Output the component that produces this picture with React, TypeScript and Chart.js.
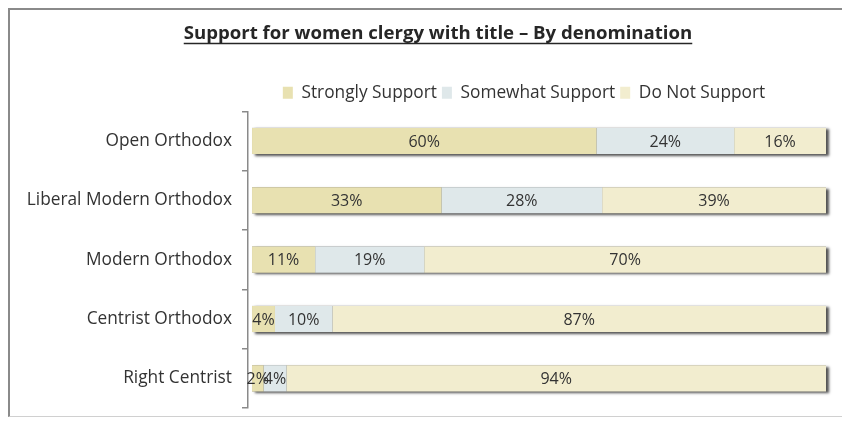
import React, { useEffect, useRef } from "react";
import { Chart, registerables } from "chart.js";

Chart.register(...registerables);

const titleText = "Support for women clergy with title – By denomination";
const categories = [
  "Open Orthodox",
  "Liberal Modern Orthodox",
  "Modern Orthodox",
  "Centrist Orthodox",
  "Right Centrist",
];
const seriesNames = ["Strongly Support", "Somewhat Support", "Do Not Support"];
const stronglySupport = [60, 33, 11, 4, 2];
const somewhatSupport = [24, 28, 19, 10, 4];
const doNotSupport = [16, 39, 70, 87, 94];
const seriesColors = ["#e8e1b1", "#dfe8ea", "#f2edcf"];

const FONT = "'Open Sans', sans-serif";

const titlePlugin = {
  id: "underlinedTitle",
  afterDraw(chart: any) {
    const ctx = chart.ctx;
    ctx.save();
    ctx.font = `bold 18.6px ${FONT}`;
    ctx.fillStyle = "#262626";
    ctx.textAlign = "center";
    ctx.textBaseline = "alphabetic";
    const cx = 428;
    const by = 29;
    ctx.fillText(titleText, cx, by);
    const w = ctx.measureText(titleText).width;
    ctx.strokeStyle = "#262626";
    ctx.lineWidth = 1.3;
    ctx.beginPath();
    ctx.moveTo(cx - w / 2, by + 4.5);
    ctx.lineTo(cx + w / 2, by + 4.5);
    ctx.stroke();
    ctx.restore();
  },
};

const legendShiftPlugin = {
  id: "legendShift",
  afterLayout(chart: any) {
    const lg = chart.legend;
    if (lg) {
      lg.left -= 13;
      lg.right -= 13;
    }
  },
};

const shadowPlugin = {
  id: "barShadow",
  beforeDatasetsDraw(chart: any) {
    const ctx = chart.ctx;
    const n = chart.data.datasets.length;
    const first = chart.getDatasetMeta(0).data;
    const last = chart.getDatasetMeta(n - 1).data;
    ctx.save();
    for (let i = 0; i < first.length; i++) {
      const a = first[i].getProps(["x", "y", "base", "height"], true);
      const b = last[i].getProps(["x", "y", "base", "height"], true);
      const left = Math.min(a.base, a.x);
      const right = Math.min(Math.max(b.x, b.base), chart.chartArea.right);
      const top = a.y - a.height / 2;
      ctx.shadowColor = "rgba(40,40,40,0.8)";
      ctx.shadowBlur = 2.5;
      ctx.shadowOffsetX = 3;
      ctx.shadowOffsetY = 1.5;
      ctx.fillStyle = "#666";
      ctx.fillRect(left, top, right - left, a.height);
    }
    ctx.restore();
  },
};

const labelPlugin = {
  id: "segmentLabels",
  afterDatasetsDraw(chart: any) {
    const ctx = chart.ctx;
    ctx.save();
    ctx.font = `16px ${FONT}`;
    ctx.fillStyle = "#333";
    ctx.textAlign = "center";
    ctx.textBaseline = "middle";
    chart.data.datasets.forEach((ds: any, di: number) => {
      chart.getDatasetMeta(di).data.forEach((el: any, i: number) => {
        const p = el.getProps(["x", "y", "base"], true);
        const right = Math.min(p.x, chart.chartArea.right);
        ctx.fillText(`${ds.data[i]}%`, (p.base + right) / 2, p.y + 1);
      });
    });
    ctx.restore();
  },
};

export default function App() {
  const ref = useRef<HTMLCanvasElement | null>(null);
  useEffect(() => {
    if (!ref.current) return;
    const values = [stronglySupport, somewhatSupport, doNotSupport];
    const chart = new Chart(ref.current, {
      type: "bar",
      data: {
        labels: categories,
        datasets: seriesNames.map((name, k) => ({
          label: name,
          data: values[k],
          backgroundColor: seriesColors[k],
          borderWidth: 0,
          barPercentage: 0.44,
          categoryPercentage: 1,
        })),
      },
      options: {
        indexAxis: "y",
        animation: false,
        responsive: false,
        maintainAspectRatio: false,
        layout: { padding: { left: 4, right: 24, top: 69, bottom: 8 } },
        plugins: {
          title: { display: false },
          tooltip: { enabled: false },
          legend: {
            display: true,
            position: "top",
            align: "center",
            fullSize: false,
            labels: {
              boxWidth: 10,
              boxHeight: 12,
              padding: 5,
              color: "#333",
              font: { family: FONT, size: 17.3 },
            },
          },
        },
        scales: {
          x: { stacked: true, display: false, min: -0.7, max: 100 },
          y: {
            stacked: true,
            afterFit(scale: any) {
              scale.width = 234;
              scale.paddingTop = 0;
              scale.paddingBottom = 0;
            },
            grid: {
              offset: true,
              drawOnChartArea: false,
              drawTicks: true,
              tickLength: 6,
              color: "#8a8a8a",
              lineWidth: 1.5,
            },
            border: { display: true, color: "#8a8a8a", width: 1.5 },
            ticks: {
              color: "#333",
              padding: 10,
              font: { family: FONT, size: 17.3 },
            },
          },
        },
      } as any,
      plugins: [legendShiftPlugin, shadowPlugin, labelPlugin, titlePlugin],
    });
    return () => chart.destroy();
  }, []);

  return (
    <div
      style={{
        width: 842,
        height: 409,
        boxSizing: "border-box",
        borderLeft: "2px solid #8a8a8a",
        borderTop: "2px solid #8a8a8a",
        borderBottom: "1px solid #d0d0d0",
        overflow: "hidden",
      }}
    >
      <canvas ref={ref} width={840} height={406} style={{ display: "block" }} />
    </div>
  );
}
